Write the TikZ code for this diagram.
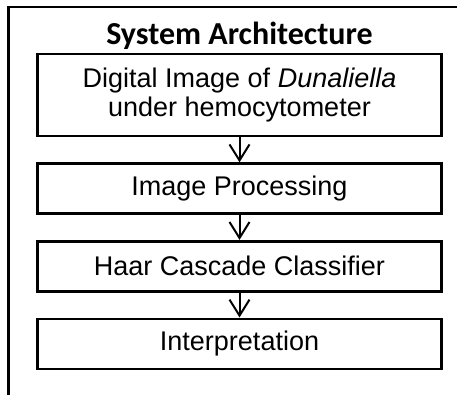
\documentclass[tikz,border=0pt]{standalone}
\usepackage{fontspec}
\setmainfont{Liberation Sans}
\newfontfamily\titlefont{Carlito}
\usetikzlibrary{arrows.meta,positioning}
\tikzset{
  frame/.style={line width=2.4pt},
  box/.style={draw, line width=2.6pt, minimum width=404pt, minimum height=50pt,
              align=center, inner sep=2pt, font=\fontsize{27}{29}\selectfont},
  flow/.style={-{Straight Barb[length=16pt, width=20pt, line width=2pt]}, line width=2pt},
  heading/.style={font=\titlefont\bfseries\fontsize{32}{34}\selectfont, inner sep=0pt},
}
\begin{document}
\begin{tikzpicture}[x=1pt, y=-1pt, node distance=25pt]
  \useasboundingbox (0,0) rectangle (457,395);
  % outer frame, cut off on the right and at the bottom
  \coordinate (ftr) at (457,7);
  \coordinate (ftl) at (8.5,7);
  \coordinate (fbl) at (8.5,395);
  \draw[frame] (ftr) -- (ftl) -- (fbl);

  \node[box, minimum height=82pt] (image) at (239.5,95) {Digital Image of \textit{Dunaliella}\\under hemocytometer};
  \node[box, below=of image] (proc) {Image Processing};
  \node[box, below=of proc] (haar) {Haar Cascade Classifier};
  \node[box, below=of haar] (interp) {Interpretation};
  \node[heading, above=3pt of image] (title) {System Architecture};

  \draw[flow] (image) -- (proc);
  \draw[flow] (proc) -- (haar);
  \draw[flow] (haar) -- (interp);
\end{tikzpicture}
\end{document}
